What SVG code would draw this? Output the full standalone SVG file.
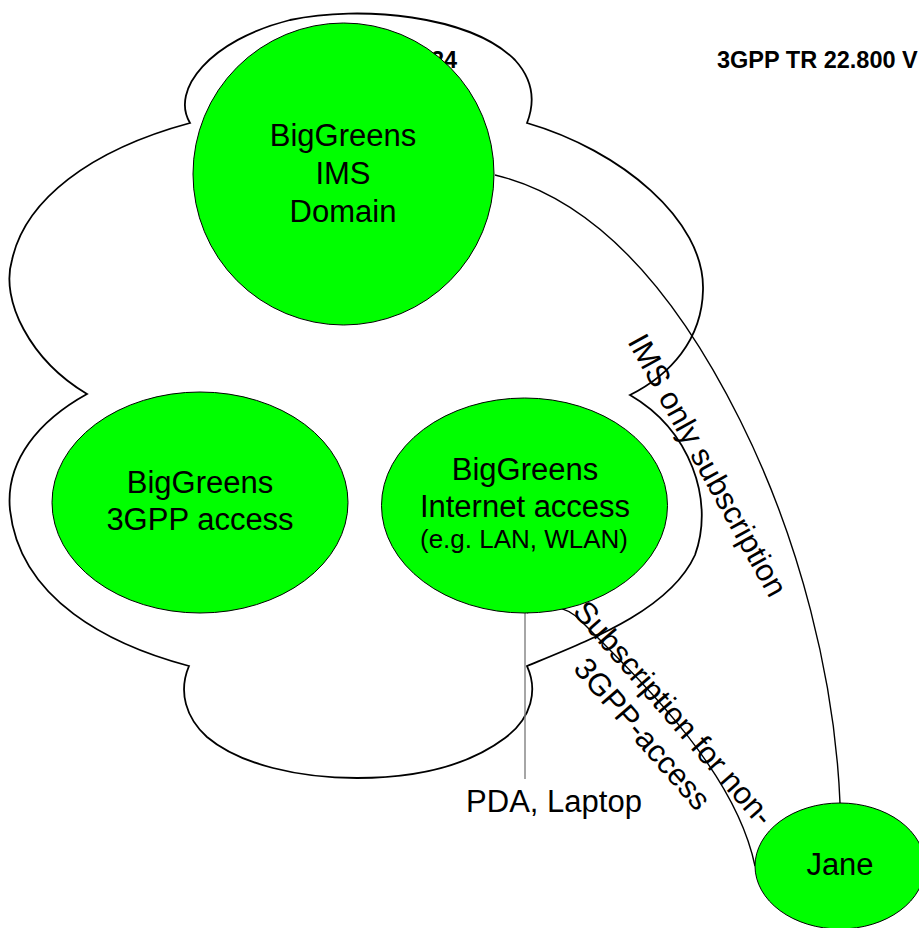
<svg xmlns="http://www.w3.org/2000/svg" width="919" height="928" viewBox="0 0 919 928">
<style>
.node{fill:#00ff00;stroke:#000;stroke-width:1}
.lbl{font-family:"Liberation Sans",Arial,sans-serif;font-size:31px;fill:#000;text-anchor:middle}
.small{font-size:26px}
.hdr{font-family:"Liberation Sans",Arial,sans-serif;font-size:23.5px;font-weight:bold;fill:#000}
.cloud{fill:none;stroke:#000;stroke-width:1.8}
.conn{fill:none;stroke:#000;stroke-width:1.4}
.pda{fill:none;stroke:#808080;stroke-width:1.4}
</style>
<rect width="919" height="928" fill="#fff"/>
<g id="cloud">
<path class="cloud" d="M190,123 C170,90 210,40 290,20 C360,5 470,15 515,60 C535,82 534,105 527,123 C620,150 705,220 703,290 C702,340 670,375 630,395 C690,430 715,500 695,555 C670,610 590,640 527,666 C538,690 532,718 505,738 C465,768 410,778 357,778 C300,778 240,765 207,737 C186,718 178,692 189,666 C110,645 20,600 10,510 C5,460 40,420 87,394 C30,360 0,300 12,260 C25,200 90,150 190,123 Z"/>
</g>
<g id="header">
<text class="hdr" x="431" y="68">24</text>
<text class="hdr" x="717" y="68">3GPP TR 22.800 V</text>
</g>
<g id="connectors">
<path class="conn" d="M495,175 C600,200 680,300 740,420 C800,540 835,680 840,803"/>
<path class="conn" d="M527,613 C545,603 565,605 580,620 C640,680 735,770 755,866"/>
<line class="pda" x1="525" y1="613" x2="525" y2="779"/>
</g>
<g id="ims">
<ellipse class="node" cx="343.5" cy="174" rx="150.5" ry="151"/>
<text class="lbl" x="343" y="146">BigGreens</text>
<text class="lbl" x="343" y="184">IMS</text>
<text class="lbl" x="343" y="222">Domain</text>
</g>
<g id="access3gpp">
<ellipse class="node" cx="200" cy="502.5" rx="148" ry="110.5"/>
<text class="lbl" x="200" y="493">BigGreens</text>
<text class="lbl" x="200" y="530">3GPP access</text>
</g>
<g id="internet">
<ellipse class="node" cx="524.5" cy="505.5" rx="143" ry="107.5"/>
<text class="lbl" x="525" y="480">BigGreens</text>
<text class="lbl" x="525" y="517">Internet access</text>
<text class="lbl small" x="524" y="548">(e.g. LAN, WLAN)</text>
</g>
<g id="jane">
<ellipse class="node" cx="840" cy="866" rx="85" ry="63"/>
<text class="lbl" x="840" y="875">Jane</text>
</g>
<g id="labels">
<text class="lbl" transform="translate(708,465) rotate(61)" x="0" y="11">IMS only subscription</text>
<g transform="translate(674,713) rotate(49)">
<text class="lbl" x="0" y="11">Subscription for non-</text>
<text class="lbl" x="-5" y="48">3GPP-access</text>
</g>
<text class="lbl" x="554" y="812">PDA, Laptop</text>
</g>
</svg>
